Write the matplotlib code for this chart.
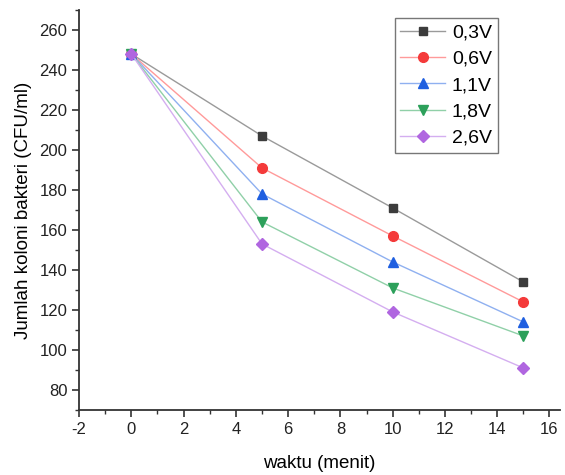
import matplotlib.pyplot as plt
from matplotlib.ticker import MultipleLocator

plt.rcParams['font.family'] = ['Liberation Sans', 'DejaVu Sans']
plt.rcParams['axes.unicode_minus'] = False

waktu = [0, 5, 10, 15]
labels = ['0,3V', '0,6V', '1,1V', '1,8V', '2,6V']
v03 = [248, 207, 171, 134]
v06 = [248, 191, 157, 124]
v11 = [248, 178, 144, 114]
v18 = [248, 164, 131, 107]
v26 = [248, 153, 119, 91]
series = [v03, v06, v11, v18, v26]

markers = ['s', 'o', '^', 'v', 'D']
mcolors = ['#3c3c3c', '#f43a3a', '#1f5fe0', '#2ca05a', '#b066e0']
lcolors = ['#9a9a9a', '#ff9a9a', '#8fb0f0', '#90d0a8', '#d4aef0']
msizes = [6, 7, 7.5, 7.5, 6]

fig = plt.figure(figsize=(5.65, 4.75), dpi=100)
ax = fig.add_axes([0.14, 0.137, 0.851, 0.842])

for ys, lab, mk, mc, lc, ms in zip(series, labels, markers, mcolors, lcolors, msizes):
    ax.plot(waktu, ys, color=lc, lw=1.0, marker=mk, markersize=ms,
            markerfacecolor=mc, markeredgecolor=mc, label=lab)

ax.set_xlim(-2, 16.4)
ax.set_ylim(70, 270)
ax.xaxis.set_major_locator(MultipleLocator(2))
ax.xaxis.set_minor_locator(MultipleLocator(1))
ax.yaxis.set_minor_locator(MultipleLocator(10))
ax.set_yticks(range(80, 261, 20))

for s in ['top', 'right']:
    ax.spines[s].set_visible(False)
for s in ['left', 'bottom']:
    ax.spines[s].set_color('#333333')
    ax.spines[s].set_linewidth(1.3)

ax.tick_params(which='major', direction='out', length=5, width=1.2,
               colors='#333333', labelsize=12, labelcolor='#222222')
ax.tick_params(which='minor', direction='out', length=3, width=1.0, colors='#333333')

ax.set_xlabel('waktu (menit)', fontsize=13.5, labelpad=13)
ax.set_ylabel('Jumlah koloni bakteri (CFU/ml)', fontsize=13.5, labelpad=5)

leg = ax.legend(loc='upper left', bbox_to_anchor=(0.656, 0.98), fontsize=14,
                frameon=True, fancybox=False, handlelength=2.3,
                borderpad=0.3, labelspacing=0.45, handletextpad=0.35,
                borderaxespad=0)
leg.get_frame().set_edgecolor('#555555')
leg.get_frame().set_linewidth(1.0)

fig.savefig('out.png', dpi=100)
